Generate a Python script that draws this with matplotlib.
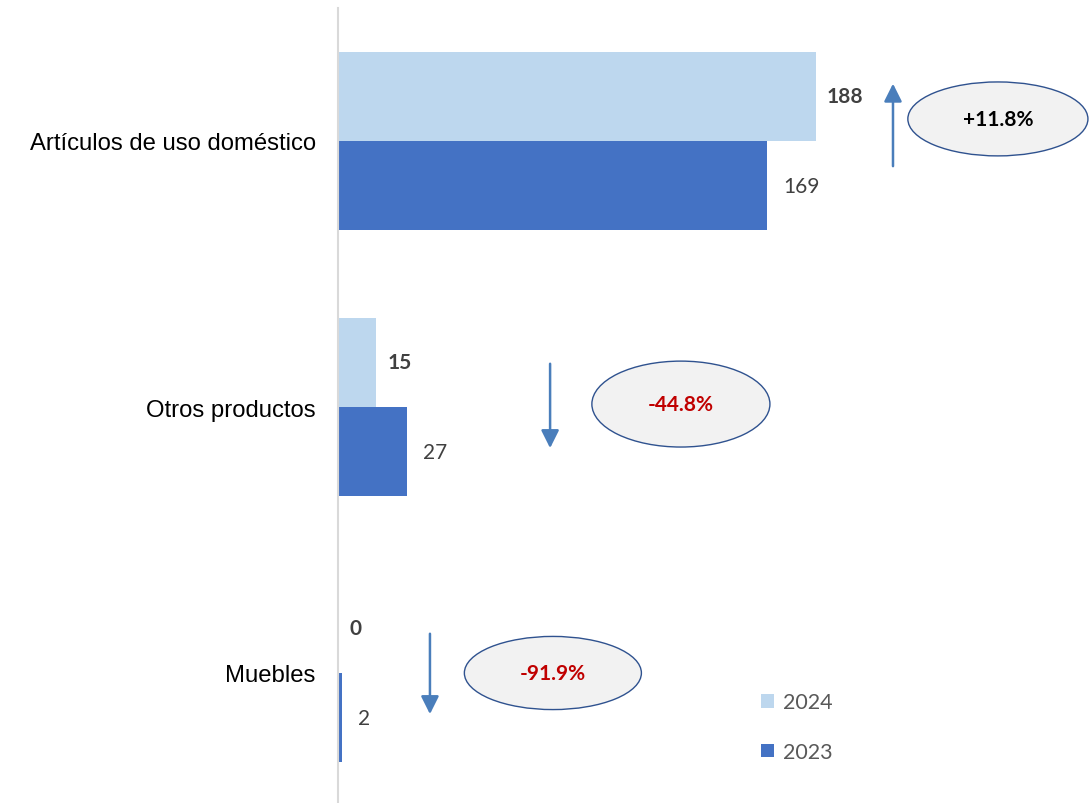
"""Horizontal grouped bars 2024 vs 2023 with change bubbles."""

import numpy as np
import matplotlib
matplotlib.use("Agg")
from matplotlib import pyplot as plt
from matplotlib.patches import Ellipse

# Data
categories = ["Artículos de uso doméstico", "Otros productos", "Muebles"]
values_2024 = [188, 15, 0.13]
values_2023 = [169, 27, 1.6]
changes = ["+11.8%", "-44.8%", "-91.9%"]
change_up = [True, False, False]

# Styling
C_2024 = "#BDD7EE"
C_2023 = "#4472C4"
ARROW_C = "#4A7EBB"
NUM_FONT = ["Lato", "DejaVu Sans"]
LABEL_FONT = ["Liberation Sans", "DejaVu Sans"]

# Placement of arrows and bubbles (x in data units, y offset from category centre)
arrow_x = [218.5, 83.5, 36.2]
arrow_span = [(0.105, -0.226), (-0.173, 0.165), (-0.158, 0.165)]
bubble_x = [259.8, 135.0, 84.6]
bubble_dy = [-0.083, -0.011, 0.0]
bubble_w = [70.9, 70.1, 69.7]
bubble_h = [0.278, 0.323, 0.275]

W, H = 1089, 804
fig = plt.figure(figsize=(W / 100, H / 100), dpi=100)
ax = fig.add_axes([338 / W, 0, 1 - 338 / W, (804 - 9) / H])

y = np.arange(len(categories))
bh = 0.335
bars24 = ax.barh(y - bh / 2, values_2024, height=bh, color=C_2024, label="2024")
bars23 = ax.barh(y + bh / 2, values_2023, height=bh, color=C_2023, label="2023")

ax.set_xlim(0, (W - 338) / 2.54)
ax.set_ylim((804 - 9) / 266 - 0.5, -0.5)

# Value labels
for bar, v in zip(bars24, values_2024):
    ax.annotate(f"{v:.0f}", (bar.get_width(), bar.get_y() + bar.get_height() / 2),
                xytext=(11, 0), textcoords="offset pixels", va="center", ha="left",
                fontsize=15, fontweight="bold", color="#404040", family=NUM_FONT)
for bar, v in zip(bars23, values_2023):
    ax.annotate(f"{v:.0f}", (bar.get_width(), bar.get_y() + bar.get_height() / 2),
                xytext=(16, 0), textcoords="offset pixels", va="center", ha="left",
                fontsize=15, color="#404040", family=NUM_FONT)

# Arrows and change bubbles
for i in range(len(categories)):
    y0, y1 = arrow_span[i]
    ax.annotate("", xy=(arrow_x[i], i + y1), xytext=(arrow_x[i], i + y0),
                arrowprops=dict(arrowstyle="-|>,head_length=1.08,head_width=0.54",
                                mutation_scale=10, color=ARROW_C, lw=1.8))
    ax.add_patch(Ellipse((bubble_x[i], i + bubble_dy[i]), bubble_w[i], bubble_h[i],
                         facecolor="#F2F2F2", edgecolor="#2F528F", lw=1))
    ax.text(bubble_x[i], i + bubble_dy[i], changes[i], ha="center", va="center",
            fontsize=15, fontweight="bold", family=NUM_FONT,
            color="black" if change_up[i] else "#C00000")

# Axes styling
ax.set_yticks(y)
ax.set_yticklabels(categories, family=LABEL_FONT, fontsize=17.2)
ax.tick_params(axis="y", length=0, pad=16)
ax.set_xticks([])
for s in ["top", "right", "bottom"]:
    ax.spines[s].set_visible(False)
ax.spines["left"].set_color("#D9D9D9")
ax.spines["left"].set_linewidth(1.5)

leg = ax.legend(handles=[bars24, bars23], loc="upper left",
                bbox_to_anchor=(742 / W, 1 - 674 / H), bbox_transform=fig.transFigure,
                frameon=False, handlelength=0.6, handleheight=0.6, handletextpad=0.4,
                labelspacing=1.38, prop={"family": NUM_FONT, "size": 15.5})
for t in leg.get_texts():
    t.set_color("#595959")

fig.savefig("out.png", dpi=100)
